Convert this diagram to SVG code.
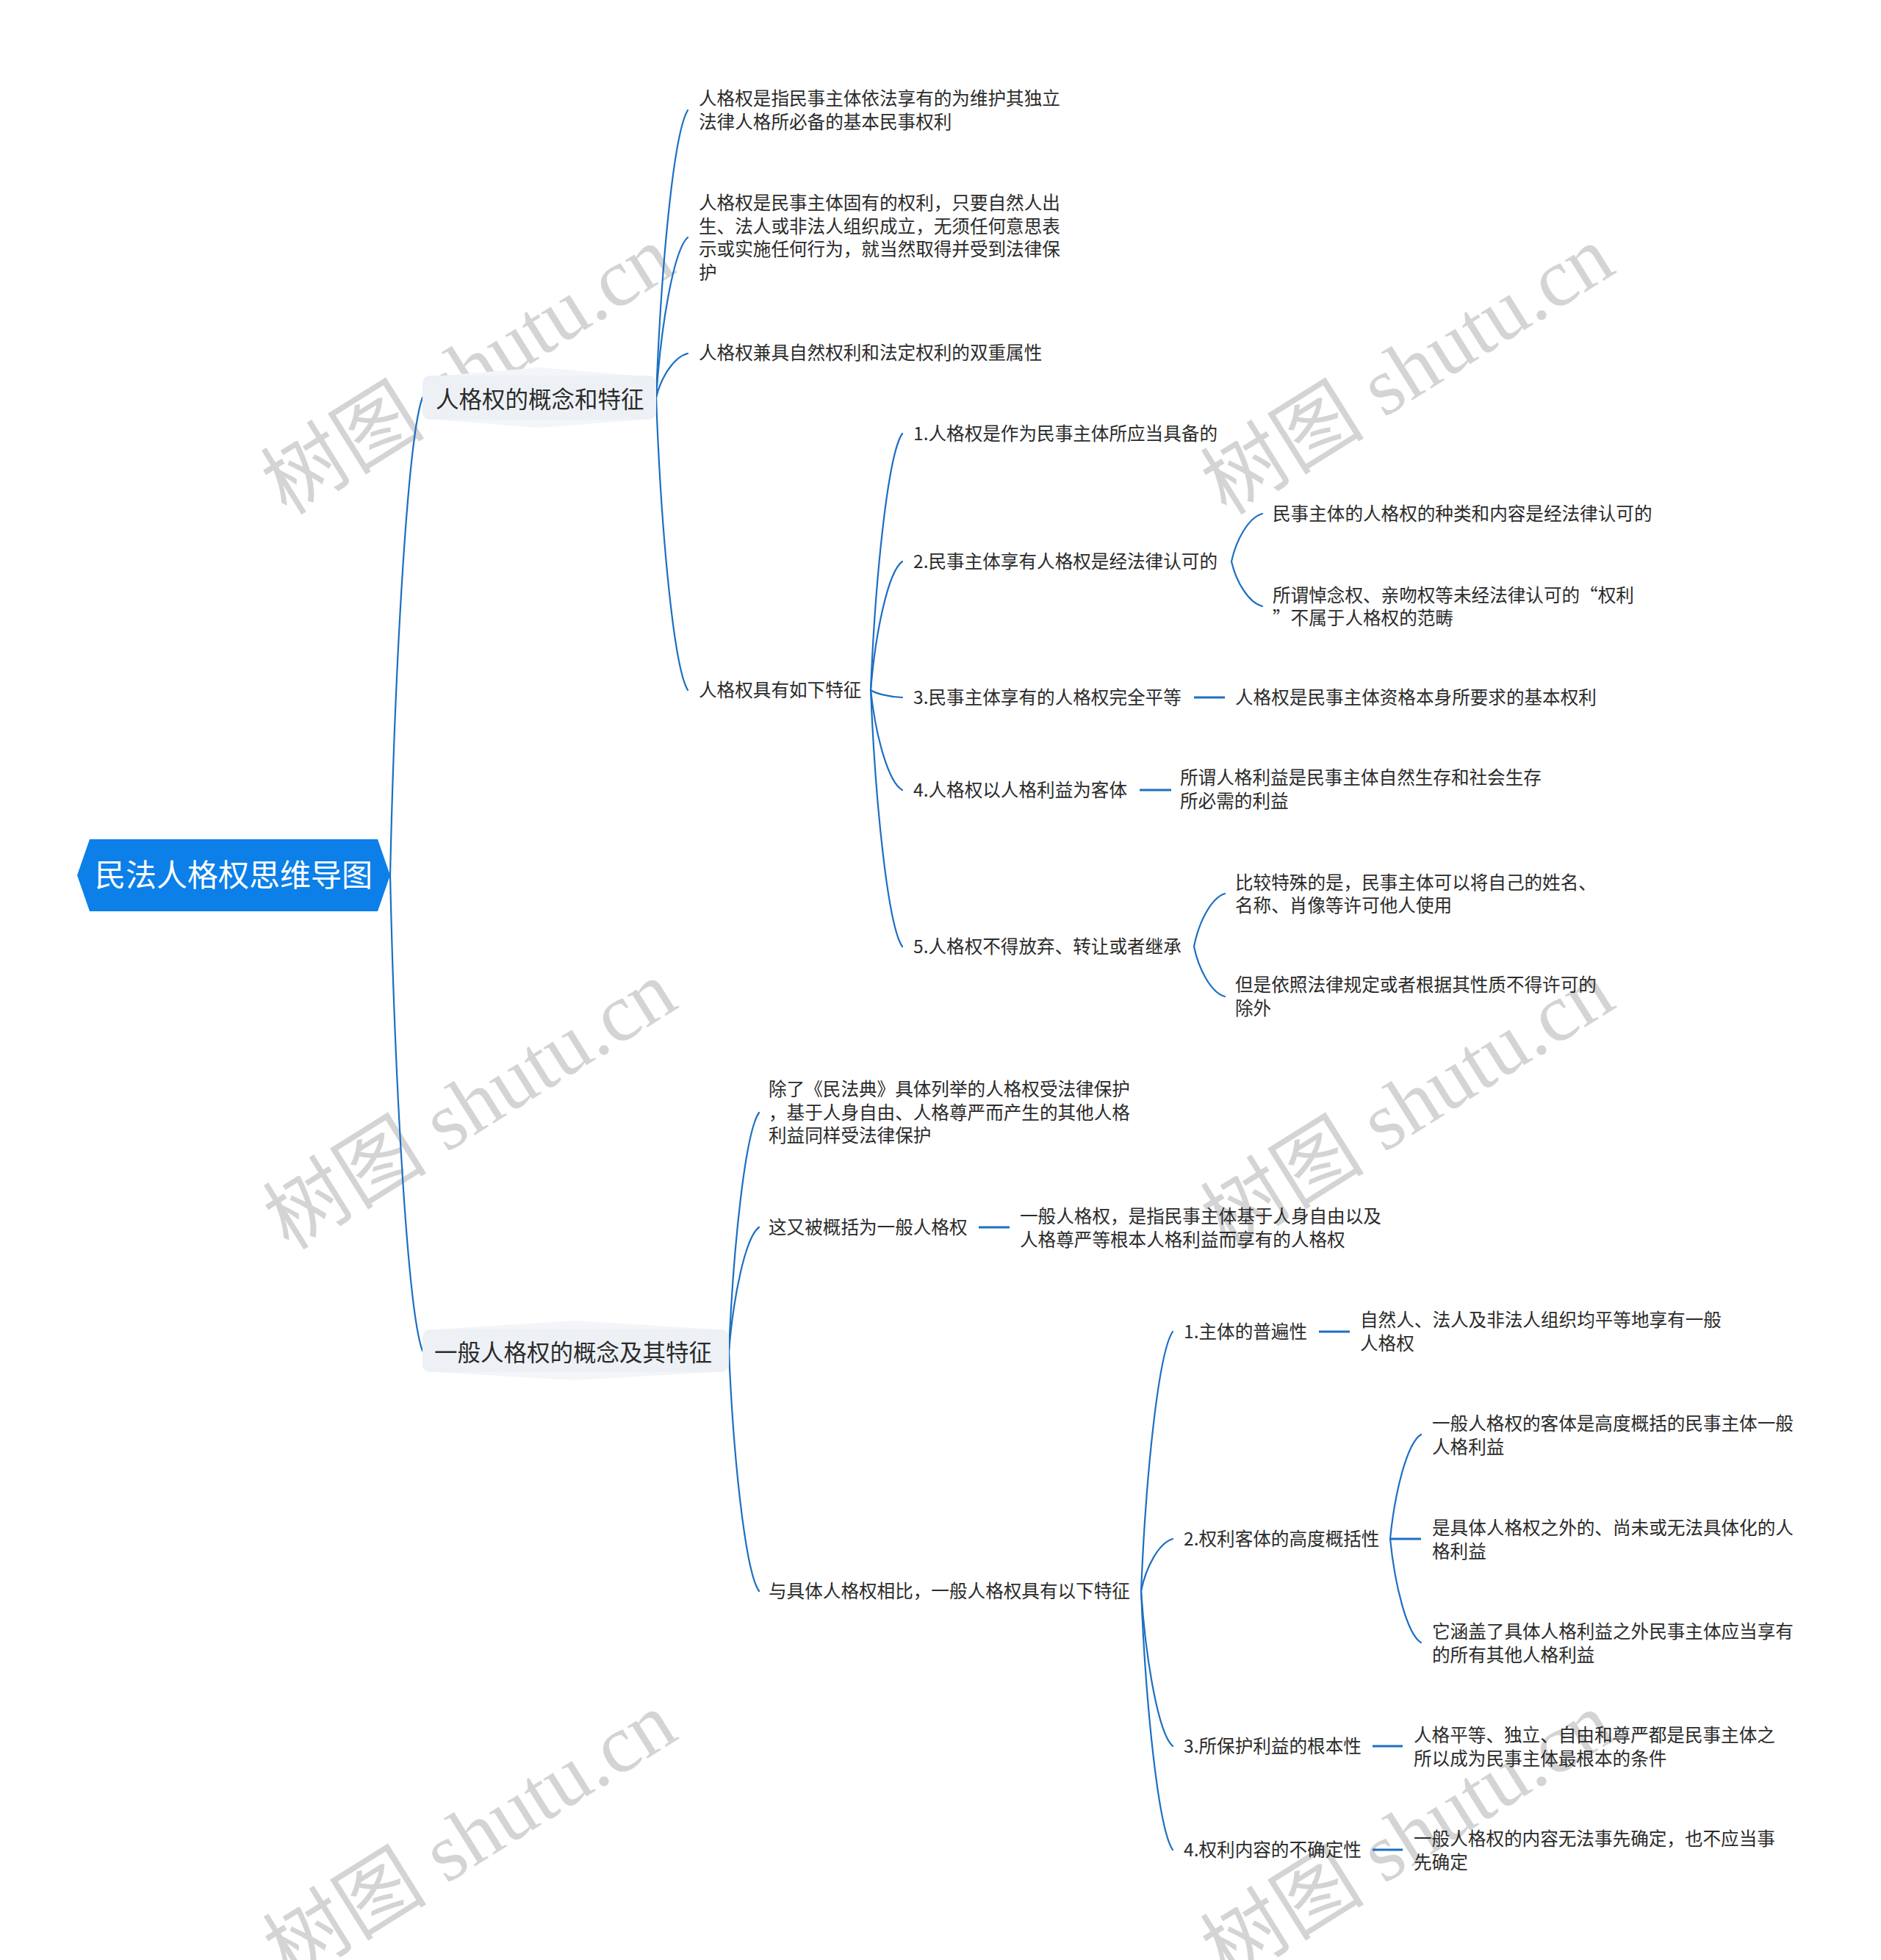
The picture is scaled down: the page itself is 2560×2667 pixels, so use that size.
<svg xmlns="http://www.w3.org/2000/svg" width="2560" height="2667" viewBox="0 0 2560 2667">
<style>
.t{font-family:"Noto Sans CJK SC","Noto Sans",sans-serif;font-size:24.6px;fill:#2b2b2b}
.b{font-family:"Noto Sans CJK SC","Noto Sans",sans-serif;font-size:31.5px;fill:#2b2b2b}
.r{font-family:"Noto Sans CJK SC","Noto Sans",sans-serif;font-size:42px;fill:#ffffff}
.c{fill:none;stroke:#1c6fc3;stroke-width:2.2;stroke-linecap:round}
.s{fill:none;stroke:#1c6fc3;stroke-width:3}
.bg{fill:#edf1f5}
.bgl{fill:#f3f5f8}
.wm{font-family:"Liberation Serif","Noto Sans CJK SC",serif;font-size:112px;fill:#000;fill-opacity:0.17}
</style>
<rect width="2560" height="2667" fill="#ffffff"/>
<g id="watermarks">
<text class="wm" x="643" y="540" text-anchor="middle" transform="rotate(-32 643 514)">树图 shutu.cn</text>
<text class="wm" x="1922" y="540" text-anchor="middle" transform="rotate(-32 1922 514)">树图 shutu.cn</text>
<text class="wm" x="646" y="1540" text-anchor="middle" transform="rotate(-32 646 1514)">树图 shutu.cn</text>
<text class="wm" x="1922" y="1540" text-anchor="middle" transform="rotate(-32 1922 1514)">树图 shutu.cn</text>
<text class="wm" x="646" y="2535" text-anchor="middle" transform="rotate(-32 646 2509)">树图 shutu.cn</text>
<text class="wm" x="1922" y="2535" text-anchor="middle" transform="rotate(-32 1922 2509)">树图 shutu.cn</text>
</g>
<g id="connectors">
<path class="c" d="M531,1191 C537.6,898.5 555.2,593 575,541"/>
<path class="c" d="M531,1191 C537.6,1482.2 555.2,1786.2 575,1838"/>
<path class="c" d="M893,541 C899.5,365.1 916.7,181.3 936,150"/>
<path class="c" d="M893,541 C899.5,442.9 916.7,340.4 936,323"/>
<path class="c" d="M893,541 C899.5,514 916.7,485.8 936,481"/>
<path class="c" d="M893,541 C899.5,720.1 916.7,907.2 936,939"/>
<path class="c" d="M1185,939 C1191.5,782 1208.7,617.9 1228,590"/>
<path class="c" d="M1185,939 C1191.5,860.3 1208.7,778 1228,764"/>
<path class="c" d="M1185,939 C1191.5,943.5 1208.7,948.2 1228,949"/>
<path class="c" d="M1185,939 C1191.5,1000.2 1208.7,1064.1 1228,1075"/>
<path class="c" d="M1185,939 C1191.5,1096 1208.7,1260.1 1228,1288"/>
<path class="c" d="M1676,764 C1682.3,734.8 1699.1,704.2 1718,699"/>
<path class="c" d="M1676,764 C1682.3,791.5 1699.1,820.1 1718,825"/>
<path class="s" d="M1625,949 L1667,949"/>
<path class="s" d="M1551,1075 L1594,1075"/>
<path class="c" d="M1625,1288 C1631.3,1255.6 1648.1,1221.8 1667,1216"/>
<path class="c" d="M1625,1288 C1631.3,1318.6 1648.1,1350.6 1667,1356"/>
<path class="c" d="M992,1839 C998.2,1692.8 1014.6,1540 1033,1514"/>
<path class="c" d="M992,1839 C998.2,1763 1014.6,1683.5 1033,1670"/>
<path class="c" d="M992,1839 C998.2,1985.7 1014.6,2138.9 1033,2165"/>
<path class="s" d="M1332,1670 L1374,1670"/>
<path class="c" d="M1553,2165 C1559.5,2006.2 1576.7,1840.2 1596,1812"/>
<path class="c" d="M1553,2165 C1559.5,2133 1576.7,2099.7 1596,2094"/>
<path class="c" d="M1553,2165 C1559.5,2260 1576.7,2359.1 1596,2376"/>
<path class="c" d="M1553,2165 C1559.5,2323.4 1576.7,2488.8 1596,2517"/>
<path class="s" d="M1795,1812 L1837,1812"/>
<path class="c" d="M1892,2094 C1898.3,2030.1 1915.1,1963.4 1934,1952"/>
<path class="s" d="M1892,2094 L1934,2094"/>
<path class="c" d="M1892,2094 C1898.3,2157.5 1915.1,2223.7 1934,2235"/>
<path class="s" d="M1868,2376 L1909,2376"/>
<path class="s" d="M1868,2517 L1909,2517"/>
</g>
<g id="root">
<polygon points="105,1191 122,1142 514,1142 531,1191 514,1240 122,1240" fill="#0c80e8"/>
<text class="r" x="318" y="1206" text-anchor="middle">民法人格权思维导图</text>
</g>
<g id="b1">
<path class="bgl" d="M575,531 Q575,514 592,512 L734,500 L876,512 Q893,514 893,531 L893,553 Q893,570 876,571 L734,582 L592,571 Q575,570 575,553 Z"/>
<rect class="bg" x="575" y="511" width="318" height="60" rx="10"/>
<text class="b" x="593" y="555">人格权的概念和特征</text>
</g>
<g id="b1-1"><text class="t" x="951" y="143">人格权是指民事主体依法享有的为维护其独立</text><text class="t" x="951" y="175">法律人格所必备的基本民事权利</text></g>
<g id="b1-2"><text class="t" x="951" y="285">人格权是民事主体固有的权利，只要自然人出</text><text class="t" x="951" y="317">生、法人或非法人组织成立，无须任何意思表</text><text class="t" x="951" y="348">示或实施任何行为，就当然取得并受到法律保</text><text class="t" x="951" y="380">护</text></g>
<g id="b1-3"><text class="t" x="951" y="489">人格权兼具自然权利和法定权利的双重属性</text></g>
<g id="b1-4"><text class="t" x="951" y="948">人格权具有如下特征</text></g>
<g id="f1"><text class="t" x="1243" y="599">1.人格权是作为民事主体所应当具备的</text></g>
<g id="f2"><text class="t" x="1243" y="773">2.民事主体享有人格权是经法律认可的</text></g>
<g id="f2-1"><text class="t" x="1732" y="708">民事主体的人格权的种类和内容是经法律认可的</text></g>
<g id="f2-2"><text class="t" x="1732" y="819">所谓悼念权、亲吻权等未经法律认可的“权利</text><text class="t" x="1732" y="850">”不属于人格权的范畴</text></g>
<g id="f3"><text class="t" x="1243" y="958">3.民事主体享有的人格权完全平等</text></g>
<g id="f3-1"><text class="t" x="1681" y="958">人格权是民事主体资格本身所要求的基本权利</text></g>
<g id="f4"><text class="t" x="1243" y="1084">4.人格权以人格利益为客体</text></g>
<g id="f4-1"><text class="t" x="1606" y="1067">所谓人格利益是民事主体自然生存和社会生存</text><text class="t" x="1606" y="1099">所必需的利益</text></g>
<g id="f5"><text class="t" x="1243" y="1297">5.人格权不得放弃、转让或者继承</text></g>
<g id="f5-1"><text class="t" x="1681" y="1210">比较特殊的是，民事主体可以将自己的姓名、</text><text class="t" x="1681" y="1241">名称、肖像等许可他人使用</text></g>
<g id="f5-2"><text class="t" x="1681" y="1349">但是依照法律规定或者根据其性质不得许可的</text><text class="t" x="1681" y="1381">除外</text></g>
<g id="b2">
<path class="bgl" d="M575,1828 Q575,1811 592,1809 L783,1797 L975,1809 Q992,1811 992,1828 L992,1849 Q992,1866 975,1867 L783,1878 L592,1867 Q575,1866 575,1849 Z"/>
<rect class="bg" x="575" y="1809" width="417" height="58" rx="10"/>
<text class="b" x="591" y="1852">一般人格权的概念及其特征</text>
</g>
<g id="b2-1"><text class="t" x="1046" y="1491">除了《民法典》具体列举的人格权受法律保护</text><text class="t" x="1046" y="1523">，基于人身自由、人格尊严而产生的其他人格</text><text class="t" x="1046" y="1554">利益同样受法律保护</text></g>
<g id="b2-2"><text class="t" x="1046" y="1679">这又被概括为一般人格权</text></g>
<g id="b2-2-1"><text class="t" x="1388" y="1664">一般人格权，是指民事主体基于人身自由以及</text><text class="t" x="1388" y="1696">人格尊严等根本人格利益而享有的人格权</text></g>
<g id="b2-3"><text class="t" x="1046" y="2174">与具体人格权相比，一般人格权具有以下特征</text></g>
<g id="g1"><text class="t" x="1611" y="1821">1.主体的普遍性</text></g>
<g id="g1-1"><text class="t" x="1851" y="1805">自然人、法人及非法人组织均平等地享有一般</text><text class="t" x="1851" y="1837">人格权</text></g>
<g id="g2"><text class="t" x="1611" y="2103">2.权利客体的高度概括性</text></g>
<g id="g2-1"><text class="t" x="1949" y="1946">一般人格权的客体是高度概括的民事主体一般</text><text class="t" x="1949" y="1978">人格利益</text></g>
<g id="g2-2"><text class="t" x="1949" y="2088">是具体人格权之外的、尚未或无法具体化的人</text><text class="t" x="1949" y="2120">格利益</text></g>
<g id="g2-3"><text class="t" x="1949" y="2229">它涵盖了具体人格利益之外民事主体应当享有</text><text class="t" x="1949" y="2261">的所有其他人格利益</text></g>
<g id="g3"><text class="t" x="1611" y="2385">3.所保护利益的根本性</text></g>
<g id="g3-1"><text class="t" x="1924" y="2370">人格平等、独立、自由和尊严都是民事主体之</text><text class="t" x="1924" y="2402">所以成为民事主体最根本的条件</text></g>
<g id="g4"><text class="t" x="1611" y="2526">4.权利内容的不确定性</text></g>
<g id="g4-1"><text class="t" x="1924" y="2511">一般人格权的内容无法事先确定，也不应当事</text><text class="t" x="1924" y="2543">先确定</text></g>
</svg>
